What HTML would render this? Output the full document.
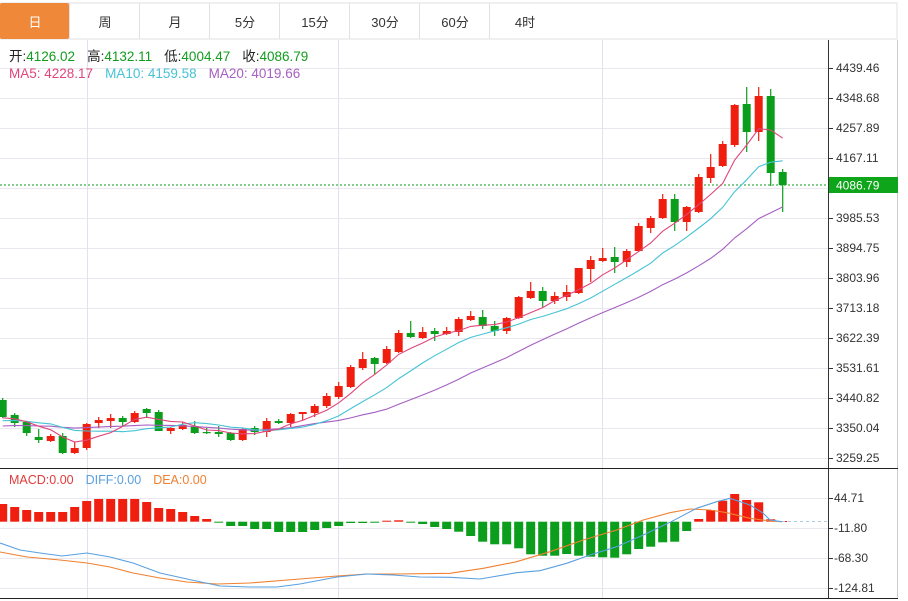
<!DOCTYPE html>
<html><head><meta charset="utf-8"><style>
body{margin:0;background:#fff;width:908px;height:601px;overflow:hidden;font-family:"Liberation Sans","Noto Sans CJK SC",sans-serif}
</style></head><body>
<svg id="s" width="908" height="601" xmlns="http://www.w3.org/2000/svg" style="position:absolute;left:0;top:0"></svg>
<script>
const C=[
['g',400,417,398,418],['g',415,423,413,427],['g',422,433,421,436],['g',437,440,429,443],['r',436,441,434,442],
['g',436,453,433,454],['r',448,453,442,454],['r',424,448,423,450],['r',420,423,417,428],['r',418,421,414,428],
['g',418,422,416,426],['r',413,422,411,423],['g',409,413,408,418],['g',412,431,410,431],['r',428,431,427,434],
['r',425,429,422,430],['g',426,433,421,434],['g',432,433,428,434],['g',432,434,426,437],['g',433,440,432,441],
['r',429,440,428,441],['g',428,432,426,435],['r',421,432,418,437],['g',421,423,419,424],['r',414,423,413,427],
['r',412,414,412,420],['r',406,413,404,417],['r',396,406,393,408],['r',386,397,382,399],['r',367,387,365,388],
['r',359,368,352,370],['g',358,364,357,374],['r',349,363,346,364],['r',333,352,330,353],['g',333,337,321,338],
['r',332,338,327,339],['g',331,334,328,341],['r',331,334,327,335],['r',319,332,317,336],['r',316,320,311,321],
['g',317,326,310,329],['g',326,331,321,336],['r',318,331,317,334],['r',297,318,296,319],['r',291,298,282,299],
['g',291,301,287,307],['r',296,301,292,304],['r',292,297,285,301],['r',268,293,268,294],['r',260,269,256,282],
['r',258,261,248,262],['g',257,262,247,273],['r',251,262,249,267],['r',226,251,223,252],['r',218,228,216,233],
['r',199,218,194,219],['g',199,222,194,231],['r',207,222,206,231],['r',177,212,174,213],['r',167,178,154,183],
['r',144,166,141,167],['r',105,145,104,147],['g',104,132,87,152],['r',96,132,87,141],['g',96,173,89,186],['g',172,185,169,212]];
const H=[504,507,510,512,512,512,507,501,499,499,499,499,502,508,509,512,516,519,522.5,526,526,529,529,532,532,532,530,528,526,523,523,522.5,520.7,520.3,522.7,524,527,529,
531.7,536,541.7,544.3,544.3,548.3,554.3,555.7,555.7,554,555.7,556.7,557.3,557.7,554.3,549,546.7,542.3,541.7,531,519,510,500.7,494,500,502.3,519.3,521];
const RED='#f01e0e',GRN='#0b9d1c',Z=521.7;
let s='';
s+=`<rect x="0" y="3" width="897" height="36" fill="#fff" stroke="#e2e2e2"/>`;
s+=`<rect x="0" y="3" width="69" height="36" rx="2" fill="#f0883a"/>`;
const tabs=['日','周','月','5分','15分','30分','60分','4时'];
tabs.forEach((t,i)=>{const cx=35+i*70;if(i>0)s+=`<line x1="${i*70-0.5}" y1="3" x2="${i*70-0.5}" y2="39" stroke="#e2e2e2"/>`;
s+=`<text x="${cx}" y="27" font-size="13" text-anchor="middle" fill="${i?'#333':'#fff'}">${t}</text>`});
const pl=[['4439.46',68],['4348.68',98],['4257.89',128],['4167.11',158],['3985.53',218],['3894.75',248],['3803.96',278],['3713.18',308],['3622.39',338],['3531.61',368],['3440.82',398],['3350.04',428],['3259.25',458]];
for(let i=0;i<14;i++){const y=68+i*30;s+=`<line x1="0" y1="${y+.5}" x2="828" y2="${y+.5}" stroke="#e8e8ee"/>`}
[498,528,558,588].forEach(y=>s+=`<line x1="0" y1="${y+.5}" x2="828" y2="${y+.5}" stroke="#e8e8ee"/>`);
[87,338,602].forEach(x=>s+=`<line x1="${x+.5}" y1="40" x2="${x+.5}" y2="598" stroke="#dfe3ec"/>`);
s+=`<line x1="828.5" y1="40" x2="828.5" y2="598" stroke="#333"/><line x1="897.5" y1="40" x2="897.5" y2="598" stroke="#ccc"/>`;
s+=`<line x1="0" y1="468.5" x2="898" y2="468.5" stroke="#222"/><line x1="0" y1="598.5" x2="898" y2="598.5" stroke="#222"/>`;
pl.forEach(([t,y])=>{s+=`<line x1="829" y1="${y+.5}" x2="833" y2="${y+.5}" stroke="#333"/><text x="836" y="${y+4}" font-size="12" fill="#333">${t}</text>`});
[['44.71',498],['-11.80',528],['-68.30',558],['-124.81',588]].forEach(([t,y])=>{s+=`<line x1="829" y1="${y+.5}" x2="833" y2="${y+.5}" stroke="#333"/><text x="834" y="${y+4}" font-size="12" fill="#333">${t}</text>`});
s+=`<line x1="0" y1="185" x2="828" y2="185" stroke="#0b9d1c" stroke-dasharray="2,2"/>`;
s+=`<rect x="829" y="177" width="69" height="16" fill="#0fa51a"/><text x="836" y="189.5" font-size="12" fill="#fff">4086.79</text>`;
const cl=C.map(c=>c[0]=='r'?c[1]:c[2]);
const pad=[];for(let i=0;i<20;i++)pad.push(i>=15?418:(i>=10?425:432));
const all=pad.concat(cl);
function ma(n){let p=[];for(let i=0;i<cl.length;i++){let a=0;for(let k=0;k<n;k++)a+=all[20+i-k];p.push((2.7+12*i).toFixed(1)+','+(a/n).toFixed(1))}return p.join(' ')}
C.forEach((c,i)=>{const x=2.7+12*i,col=c[0]=='r'?RED:GRN;
s+=`<line x1="${x}" y1="${c[3]}" x2="${x}" y2="${c[4]}" stroke="${col}" stroke-width="1.2"/>`;
s+=`<rect x="${x-4}" y="${c[1]}" width="8" height="${Math.max(1.2,c[2]-c[1])}" fill="${col}"/>`});
s+=`<polyline points="${ma(20)}" fill="none" stroke="#a65fc2" stroke-width="1.1"/>`;
s+=`<polyline points="${ma(10)}" fill="none" stroke="#45c3d5" stroke-width="1.1"/>`;
s+=`<polyline points="${ma(5)}" fill="none" stroke="#e0457b" stroke-width="1.1"/>`;
s+=`<text x="9" y="61" font-size="13.5"><tspan fill="#222">开:</tspan><tspan fill="#119c1f">4126.02</tspan><tspan fill="#222" dx="12">高:</tspan><tspan fill="#119c1f">4132.11</tspan><tspan fill="#222" dx="12">低:</tspan><tspan fill="#119c1f">4004.47</tspan><tspan fill="#222" dx="12">收:</tspan><tspan fill="#119c1f">4086.79</tspan></text>`;
s+=`<text x="9" y="78" font-size="13.5"><tspan fill="#e0457b">MA5: 4228.17</tspan><tspan fill="#45c3d5" dx="12">MA10: 4159.58</tspan><tspan fill="#a65fc2" dx="12">MA20: 4019.66</tspan></text>`;
H.forEach((h,i)=>{const x=2.7+12*i,col=h<Z?RED:GRN;const y=Math.min(h,Z),hh=Math.max(1,Math.abs(h-Z));
s+=`<rect x="${x-4.5}" y="${y}" width="9" height="${hh}" fill="${col}"/>`});
s+=`<line x1="782" y1="521.5" x2="828" y2="521.5" stroke="#a9cde8" stroke-dasharray="3,3"/>`;
const dif=[[0,543],[20,550],[40,553],[62,556],[87,553],[110,557],[133,563],[160,573],[187,579],[220,586],[250,587],[277,587],[300,584],[337,577],[367,574],[393,575],[420,577],[450,577.3],[480,579],[516.7,572.7],[540,570.7],[566.7,563.3],[590,555],[616.7,546.7],[643.3,535],[670,522.3],[696.7,508.3],[716.7,501.7],[730,498.3],[750,505],[763.3,513.3],[770,520],[781.7,521.7]];
const dea=[[0,552],[27,557],[60,560],[87,563],[110,567],[133,573],[160,578],[187,582],[217,584],[250,583],[300,579],[337,576],[367,574],[397,574],[450,573.3],[483.3,568.3],[516.7,561.7],[550,551.7],[583.3,540],[616.7,530],[643.3,520],[670,512.7],[690,509],[710,510],[726.7,512.7],[750,518.3],[770,521],[781.7,521.7]];
s+=`<polyline points="${dea.map(p=>p.join(',')).join(' ')}" fill="none" stroke="#f08030" stroke-width="1.1"/>`;
s+=`<polyline points="${dif.map(p=>p.join(',')).join(' ')}" fill="none" stroke="#5aa0e0" stroke-width="1.1"/>`;
s+=`<text x="9" y="484" font-size="12.5"><tspan fill="#e03c3c">MACD:0.00</tspan><tspan fill="#5aa0e0" dx="12">DIFF:0.00</tspan><tspan fill="#f08030" dx="12">DEA:0.00</tspan></text>`;
document.getElementById('s').innerHTML=s;
</script>
</body></html>
